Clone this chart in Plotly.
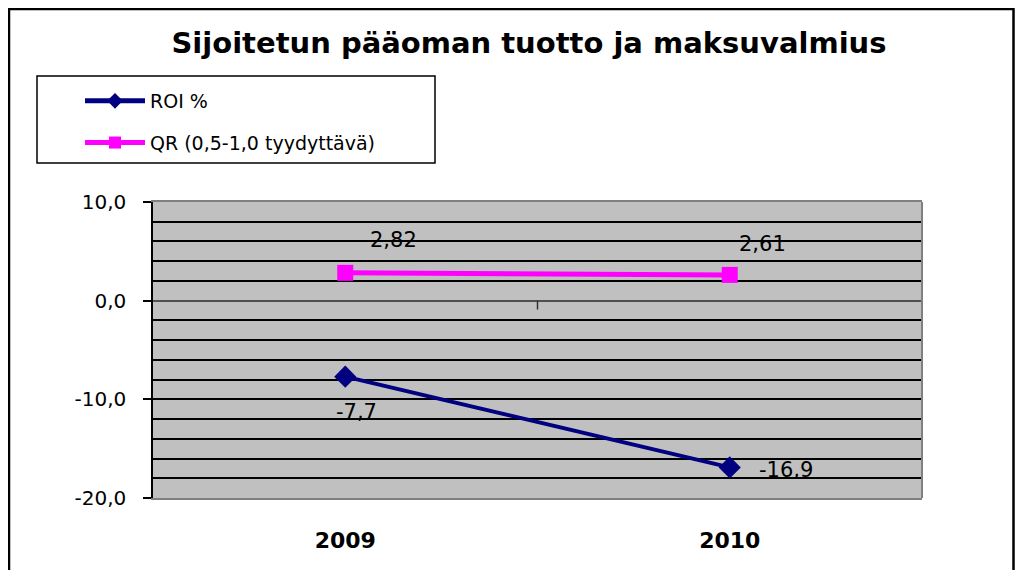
import plotly.graph_objects as go

# chart data
years = ['2009', '2010']
roi = [-7.7, -16.9]
qr = [2.82, 2.61]
y_ticks = [-20, -10, 0, 10]

# the page puts the figure 8 px in from each side, so the figure is made
# that much smaller and every pixel position below is taken from the reference
OFF = 8
W, H = 1023 - 2 * OFF, 578 - 2 * OFF
L, T = 153 - OFF, 202 - OFF
R = W - L - (922 - 153)
B = H - T - (498 - 202)
pw, ph = W - L - R, H - T - B
FONT = 'DejaVu Sans, Arial, sans-serif'


def px_x(p):
    return (p - OFF - L) / pw


def px_y(p):
    return (H - B - (p - OFF)) / ph


def fmt(v, d):
    return f"{v:.{d}f}".replace(".", ",")


fig = go.Figure()

fig.add_trace(go.Scatter(
    x=years, y=roi, name='ROI %', mode='lines+markers',
    line=dict(color='#000080', width=4),
    marker=dict(symbol='diamond', size=17, color='#000080'),
    legendgroup='a',
))
fig.add_trace(go.Scatter(
    x=years, y=qr, name='QR (0,5-1,0 tyydyttävä)', mode='lines+markers',
    line=dict(color='#FF00FF', width=5),
    marker=dict(symbol='square', size=16, color='#FF00FF'),
    legendgroup='b',
))

# data labels, placed like in the original (x as category index)
shifts_qr = [(48, 33), (33, 31)]
shifts_roi = [(11, -35), (56, -3)]
for i, (v, (dx, dy)) in enumerate(zip(qr, shifts_qr)):
    fig.add_annotation(x=i, y=v, xref='x', yref='y', text=fmt(v, 2), showarrow=False,
                       xshift=dx, yshift=dy, font=dict(size=21, color='black', family=FONT))
for i, (v, (dx, dy)) in enumerate(zip(roi, shifts_roi)):
    fig.add_annotation(x=i, y=v, xref='x', yref='y', text=fmt(v, 1), showarrow=False,
                       xshift=dx, yshift=dy, font=dict(size=21, color='black', family=FONT))

# legend box
fig.add_shape(type='rect', xref='paper', yref='paper',
              x0=px_x(37), x1=px_x(435), y0=px_y(163), y1=px_y(76),
              line=dict(color='black', width=1.5), fillcolor='white', layer='below')

# outer chart border
fig.add_shape(type='rect', xref='paper', yref='paper',
              x0=px_x(OFF + 1), x1=px_x(OFF + W - 1.5), y0=px_y(600), y1=px_y(OFF + 1),
              line=dict(color='black', width=2.5), layer='below')

# right border of plot area
fig.add_shape(type='line', xref='x domain', yref='paper', x0=1, x1=1, y0=0, y1=1,
              line=dict(color='#808080', width=2))
# category divider tick on the zero line
fig.add_shape(type='line', xref='x domain', yref='y', x0=0.5, x1=0.5, y0=0, y1=-0.9,
              line=dict(color='#303030', width=1.5))

fig.update_layout(
    width=W, height=H,
    margin=dict(l=L, r=R, t=T, b=B),
    paper_bgcolor='white',
    plot_bgcolor='#C0C0C0',
    separators=', ',
    font=dict(family=FONT, color='black'),
    title=dict(text='<b>Sijoitetun pääoman tuotto ja maksuvalmius</b>',
               x=(529 - OFF) / W, xref='container', xanchor='center',
               y=1 - (43 - OFF) / H, yref='container', yanchor='middle',
               font=dict(size=29, color='black', family=FONT)),
    showlegend=True,
    legend=dict(x=px_x(80), y=px_y(82), xanchor='left', yanchor='top',
                bgcolor='rgba(0,0,0,0)', borderwidth=0,
                font=dict(size=19, color='black', family=FONT),
                itemwidth=60, traceorder='grouped', tracegroupgap=14,
                itemsizing='constant'),
    xaxis=dict(
        type='category', range=[-0.5, 1.5],
        showgrid=False, zeroline=False,
        showline=True, linecolor='#808080', linewidth=2, mirror=True,
        ticks='', ticklabelstandoff=22,
        tickfont=dict(size=22, color='black', family=FONT),
        tickvals=years, ticktext=[f'<b>{y}</b>' for y in years],
    ),
    yaxis=dict(
        range=[-20, 10],
        tickvals=y_ticks, ticktext=[fmt(v, 1) for v in y_ticks],
        ticks='outside', ticklen=8, tickcolor='black', tickwidth=1.5,
        ticklabelstandoff=13,
        showline=True, linecolor='black', linewidth=1.5, mirror=False,
        showgrid=True, gridcolor='black', gridwidth=2,
        minor=dict(dtick=2, showgrid=True, gridcolor='black', gridwidth=2, ticks=''),
        zeroline=True, zerolinecolor='#505050', zerolinewidth=1.5,
        tickfont=dict(size=20, color='black', family=FONT),
    ),
)

fig.write_html("out.html")
